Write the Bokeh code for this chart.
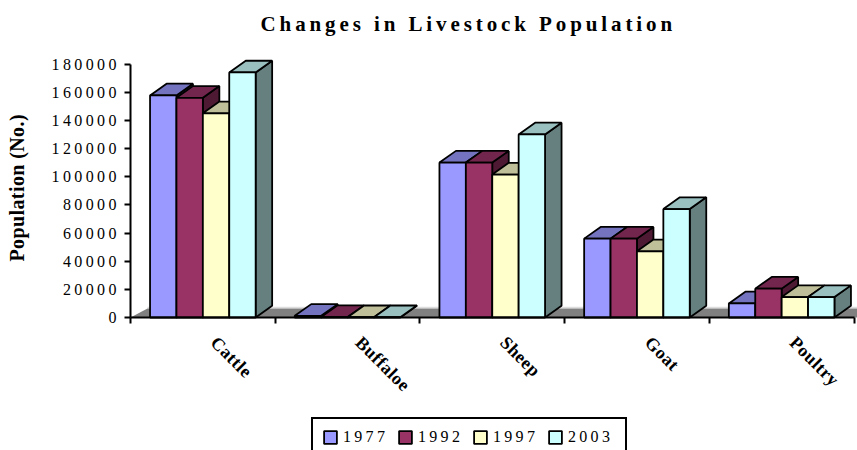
from bokeh.plotting import figure
from bokeh.embed import file_html
from bokeh.resources import INLINE
from bokeh.core.properties import value
from bokeh.document import Document
from bokeh.models import (ColumnDataSource, CustomJS, FixedTicker, Legend, LegendItem,
                          Range1d, NumeralTickFormatter)

categories = ["Cattle", "Buffaloe", "Sheep", "Goat", "Poultry"]
years = ["1977", "1992", "1997", "2003"]
v1977 = [157700, 1200, 110000, 56000, 10000]
v1992 = [156000, 300, 110000, 56000, 20500]
v1997 = [145000, 200, 101500, 47000, 14500]
v2003 = [174000, 200, 130000, 77000, 14500]
series = [v1977, v1992, v1997, v2003]
front = ["#9999FF", "#993366", "#FFFFCC", "#CCFFFF"]
top = ["#7373BF", "#73264D", "#BFBF99", "#99BFBF"]
side = ["#4D4D80", "#4D1933", "#808066", "#668080"]
y_ticks = [0, 20000, 40000, 60000, 80000, 100000, 120000, 140000, 160000, 180000]

W, H = 857, 450
MT = 45
X0, Y0 = 130, 317       # where the origin of the axes sits in the figure
PX_X = 144.7            # pixels per category
PX_Y = 253.5 / 180000   # pixels per unit
DX = 16.5 / PX_X
DY = 11.7 / PX_Y
BW = 26.4 / PX_X
FLOOR_DX, FLOOR_DY = 17 / PX_X, 9 / PX_Y

p = figure(width=W, height=H, output_backend="svg", toolbar_location=None,
           x_range=Range1d(-X0 / PX_X, (W - X0) / PX_X),
           y_range=Range1d(-(H - Y0) / PX_Y, (Y0 - MT) / PX_Y),
           min_border_left=0, min_border_bottom=0, min_border_top=MT, min_border_right=0,
           outline_line_color=None, background_fill_color="white", border_fill_color="white")
p.grid.visible = False

p.title.text = "Changes in Livestock Population"
p.title.text_font = "Liberation Serif"
p.title.text_font_size = "21px"
p.title.text_font_style = "bold"
p.title.text_color = "black"
p.title.align = "left"
p.title.vertical_align = "middle"
p.title.offset = 260
p.title.standoff = 18

n = len(categories)
x_last = (W - X0) / PX_X + 1
p.line([FLOOR_DX, x_last], [FLOOR_DY * 1.12, FLOOR_DY * 1.12], line_color="#DDDDDD", line_width=1.5)
p.patch([0, FLOOR_DX, x_last, x_last], [0, FLOOR_DY, FLOOR_DY, 0], fill_color="#808080", line_color=None)

items = []
for s, vals in enumerate(series):
    x0 = [i + 0.5 + (s - 2) * BW for i in range(n)]
    x1 = [a + BW for a in x0]
    p.patches([[a, a + DX, a + DX, a] for a in x1],
              [[0, DY, v + DY, v] for v in vals],
              fill_color=side[s], line_color="black", line_width=1.8)
    p.patches([[a, a + DX, b + DX, b] for a, b in zip(x0, x1)],
              [[v, v + DY, v + DY, v] for v in vals],
              fill_color=top[s], line_color="black", line_width=1.8)
    r = p.quad(left=x0, right=x1, bottom=0, top=vals,
               fill_color=front[s], line_color="black", line_width=1.8)
    items.append(LegendItem(label=years[s], renderers=[r]))

p.xaxis.fixed_location = 0
p.xaxis.bounds = (0, 5)
p.xaxis.ticker = FixedTicker(ticks=list(range(n + 1)))
p.xaxis.major_label_text_font_size = "0px"
p.xaxis.major_label_text_color = None
p.xaxis.axis_line_width = 2
p.xaxis.axis_line_color = "black"
p.xaxis.major_tick_line_width = 2
p.xaxis.major_tick_line_color = "black"
p.xaxis.major_tick_in = 0
p.xaxis.major_tick_out = 6
p.xaxis.minor_tick_line_color = None

p.yaxis.fixed_location = 0
p.yaxis.ticker = FixedTicker(ticks=y_ticks)
p.yaxis.bounds = (0, 180000)
p.yaxis.formatter = NumeralTickFormatter(format="0")
p.yaxis.axis_line_width = 2
p.yaxis.axis_line_color = "black"
p.yaxis.major_tick_line_width = 2
p.yaxis.major_tick_line_color = "black"
p.yaxis.major_tick_in = 0
p.yaxis.major_tick_out = 6
p.yaxis.minor_tick_line_color = None
p.yaxis.major_label_text_font = "Liberation Serif"
p.yaxis.major_label_text_font_size = "16px"
p.yaxis.major_label_text_color = "black"
p.yaxis.major_label_standoff = 8
p.yaxis.axis_label = "Population (No.)"
p.yaxis.axis_label_text_font = "Liberation Serif"
p.yaxis.axis_label_text_font_size = "20px"
p.yaxis.axis_label_text_font_style = "bold"
p.yaxis.axis_label_text_color = "black"
p.yaxis.axis_label_standoff = 38

src = ColumnDataSource(dict(x=[i + 0.5 for i in range(n)], y=[0] * n, t=categories))
p.text(x="x", y="y", text="t", source=src, angle=-45, angle_units="deg",
       text_align="left", text_baseline="middle", x_offset=11, y_offset=22,
       text_font=value("Liberation Serif"), text_font_size="18px", text_font_style="bold",
       text_color="black")

legend = Legend(items=items, orientation="horizontal", location=(311, -7),
                label_text_font="Liberation Serif", label_text_font_size="16px", label_text_color="black",
                border_line_color="black", border_line_width=2, border_line_alpha=1,
                background_fill_color="white", background_fill_alpha=1,
                glyph_width=16, glyph_height=16, label_standoff=5, label_width=48, spacing=6, padding=9, margin=0)
p.add_layout(legend, "center")

# the reference's texts are letter-spaced, which the canvas text model does not offer
spacing_js = """
function walk(root) {
  root.querySelectorAll('*').forEach(el => {
    if (el.shadowRoot) walk(el.shadowRoot);
    const t = el.textContent;
    if (el.tagName.toLowerCase() === 'text') {
      let s = 0.5;
      if (t.startsWith('Changes')) s = 3.9;
      else if (/^[0-9]+$/.test(t)) {
        s = 3.4;
        el.setAttribute('dx', -(t.length - 1) * s);
      }
      else if (t.startsWith('Population')) s = 0.4;
      el.style.letterSpacing = s + 'px';
    } else if (el.children.length === 0 && /^(1977|1992|1997|2003)$/.test(t)) {
      el.style.letterSpacing = '3.3px';
    }
  });
}
[0, 50, 200, 500, 1000, 2000].forEach(d => setTimeout(() => walk(document), d));
"""
doc = Document()
doc.add_root(p)
doc.js_on_event("document_ready", CustomJS(code=spacing_js))

open("out.html", "w").write(file_html(p, INLINE))
